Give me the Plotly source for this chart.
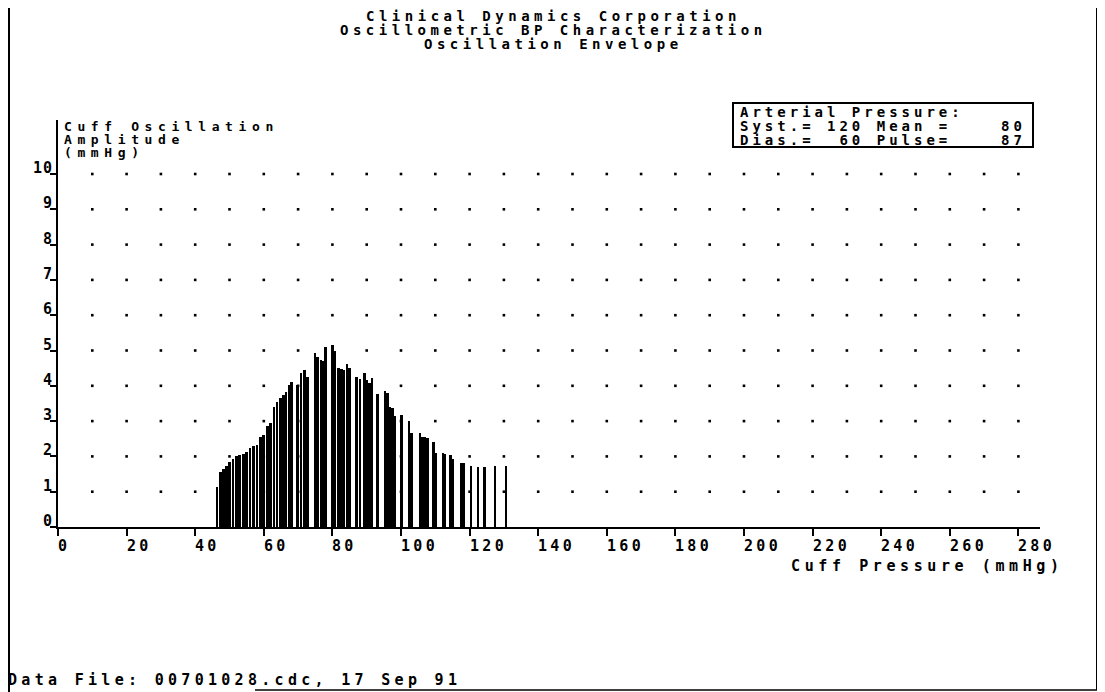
import numpy as np
import plotly.graph_objects as go

# ---------------- data ----------------
cuff_pressure = [46.4, 47.3, 48.2, 49.1, 50.0, 51.0, 52.0, 53.0, 54.0, 55.0, 56.0, 57.0,
                 58.0, 59.0, 60.0, 61.0, 62.0, 63.0, 63.9, 64.8, 65.7, 66.5, 67.3, 68.0,
                 69.9, 70.8, 71.8, 72.8,
                 74.9, 75.7, 76.7, 77.3, 78.0,
                 80.0, 80.8, 81.7, 82.7, 83.4, 84.2, 84.9,
                 87.1, 88.0, 89.3, 90.0, 90.8, 91.5,
                 93.1, 95.3, 96.0, 96.8, 97.5, 98.3,
                 100.2, 102.3, 103.1, 105.5, 106.2, 107.0, 107.7,
                 109.4, 110.2, 112.3, 112.8, 114.5, 115.2, 117.5, 118.3,
                 120.4, 122.5, 124.4, 127.4, 130.6]
amplitude = [1.14, 1.57, 1.65, 1.72, 1.85, 1.92, 2.01, 2.05, 2.08, 2.13, 2.25, 2.30,
             2.33, 2.55, 2.60, 2.85, 2.95, 3.40, 3.55, 3.65, 3.74, 3.83, 4.02, 4.12,
             4.02, 4.35, 4.45, 4.26,
             4.92, 4.82, 4.73, 4.71, 5.09,
             5.16, 4.99, 4.50, 4.47, 4.45, 4.61, 4.50,
             4.26, 4.18, 4.37, 4.16, 4.07, 4.21,
             3.77, 3.85, 3.79, 3.41, 3.37, 3.14,
             3.17, 3.01, 2.67, 2.67, 2.56, 2.54, 2.52,
             2.42, 2.09, 2.09, 2.08, 2.04, 1.92, 1.80, 1.80,
             1.73, 1.69, 1.69, 1.73, 1.73]

x_tick_values = list(range(0, 281, 20))
x_tick_labels = [str(v) for v in x_tick_values]
y_tick_values = list(range(0, 11))
y_tick_labels = [str(v) for v in y_tick_values]

title_lines = ["Clinical Dynamics Corporation",
               "Oscillometric BP Characterization",
               "Oscillation Envelope"]
box_lines = ["Arterial Pressure:",
             "Syst.= 120 Mean =    80",
             "Dias.=  60 Pulse=    87"]
y_title_lines = ["Cuff Oscillation", "Amplitude", "(mmHg)"]
x_title = "Cuff Pressure (mmHg)"
footer = "Data File: 00701028.cdc, 17 Sep 91"

# ---------------- layout geometry ----------------
# the page body adds an 8 px margin; positions below are in window pixels
OFF = 8
W, H = 1105 - OFF, 692 - OFF
L, R, T, B = 58, 1040, 120, 527          # plot area in window pixels
X_MAX = 286.3
Y_MAX = 11.53


def px(xw):
    return (xw - L) / (R - L)


def py(yw):
    return (B - yw) / (B - T)


FONT = "DejaVu Sans Mono"
INK = "#000000"

fig = go.Figure()

# dotted grid (decoration)
gx, gy = np.meshgrid(np.arange(10, 281, 10), np.arange(1, 11, 1))
fig.add_trace(go.Scatter(x=gx.ravel(), y=gy.ravel(), mode="markers",
                         marker=dict(size=2.6, color=INK, symbol="square"),
                         hoverinfo="skip", showlegend=False))

fig.add_trace(go.Bar(x=cuff_pressure, y=amplitude, width=0.76,
                     marker=dict(color=INK, line=dict(width=0)),
                     showlegend=False))


def ann(text, x, y, size, spacing, xanchor="left", yanchor="middle",
        xref="paper", yref="paper", **kw):
    body = '<span style="letter-spacing:%.1fpx"><b>%s</b></span>' % (spacing, text.replace(" ", "\u00a0"))
    return dict(text=body, x=x, y=y, xref=xref, yref=yref,
                xanchor=xanchor, yanchor=yanchor, align=xanchor,
                showarrow=False, borderpad=0, font=dict(family=FONT, size=size, color=INK), **kw)


annotations = []
for i, t in enumerate(title_lines):
    annotations.append(ann(t, px(553), py(16 + 14 * i), 14, 4.5, xanchor="center"))
for i, t in enumerate(box_lines):
    annotations.append(ann(t, px(739), py(112 + 14 * i), 14, 4.0))
for i, t in enumerate(y_title_lines):
    annotations.append(ann(t, px(63), py(127 + 12.5 * i), 13, 5.6))
for v, t in zip(x_tick_values, x_tick_labels):
    annotations.append(ann(t, v, 0, 15, 3.3, yanchor="top", xref="x", yref="y", yshift=-9, xshift=-1))
for v, t in zip(y_tick_values, y_tick_labels):
    annotations.append(ann(t, px(54), v, 15, 1.0, xanchor="right", yref="y", yshift=6))
annotations.append(ann(x_title, px(1065), py(566), 15, 4.6, xanchor="right"))
annotations.append(ann(footer, px(7), py(680), 15, 4.3))

shapes = [
    # legend box
    dict(type="rect", xref="paper", yref="paper", x0=px(733), x1=px(1033), y0=py(103), y1=py(147),
         line=dict(color=INK, width=2)),
    # page frame
    dict(type="line", xref="paper", yref="paper", x0=px(9), x1=px(9), y0=py(8), y1=py(692),
         line=dict(color=INK, width=2)),
    dict(type="line", xref="paper", yref="paper", x0=px(1097), x1=px(1097), y0=py(8), y1=py(690),
         line=dict(color=INK, width=2)),
    dict(type="line", xref="paper", yref="paper", x0=px(255), x1=px(1097), y0=py(690), y1=py(690),
         line=dict(color=INK, width=1.5)),
]

fig.update_layout(
    width=W, height=H,
    margin=dict(l=L - OFF, r=(W + OFF) - R, t=T - OFF, b=(H + OFF) - B, pad=0),
    paper_bgcolor="white", plot_bgcolor="white",
    showlegend=False,
    annotations=annotations, shapes=shapes,
    bargap=0,
)
fig.update_xaxes(range=[0, X_MAX], showgrid=False, zeroline=False,
                 showline=True, linecolor=INK, linewidth=2,
                 tickmode="array", tickvals=x_tick_values, ticktext=x_tick_labels,
                 showticklabels=False, ticks="outside", ticklen=7, tickwidth=2, tickcolor=INK)
fig.update_yaxes(range=[0, Y_MAX], showgrid=False, zeroline=False,
                 showline=True, linecolor=INK, linewidth=2,
                 tickmode="array", tickvals=y_tick_values, ticktext=y_tick_labels,
                 showticklabels=False, ticks="outside", ticklen=6, tickwidth=2, tickcolor=INK)

fig.write_html("out.html")
